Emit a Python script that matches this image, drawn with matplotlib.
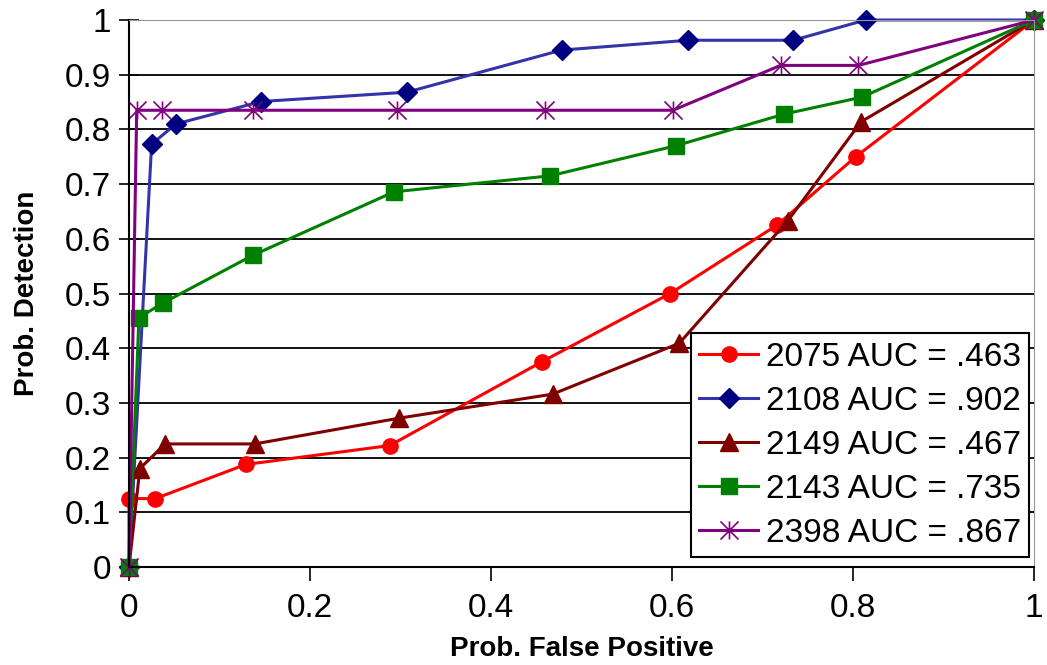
import numpy as np
import matplotlib.pyplot as plt
from matplotlib.path import Path

# ROC points (prob. false positive, prob. detection)
labels = ["2075 AUC = .463", "2108 AUC = .902", "2149 AUC = .467",
          "2143 AUC = .735", "2398 AUC = .867"]

fp_2075 = [0, 0, 0.029, 0.129, 0.288, 0.456, 0.598, 0.716, 0.803, 1]
pd_2075 = [0, 0.125, 0.125, 0.1875, 0.222, 0.375, 0.5, 0.625, 0.75, 1]

fp_2108 = [0, 0.025, 0.052, 0.146, 0.307, 0.478, 0.618, 0.734, 0.814, 1]
pd_2108 = [0, 0.773, 0.81, 0.851, 0.868, 0.945, 0.963, 0.963, 1.0, 1]

fp_2149 = [0, 0.012, 0.04, 0.139, 0.298, 0.468, 0.608, 0.728, 0.809, 1]
pd_2149 = [0, 0.18, 0.225, 0.225, 0.272, 0.316, 0.409, 0.633, 0.814, 1]

fp_2143 = [0, 0.011, 0.038, 0.137, 0.293, 0.465, 0.604, 0.724, 0.81, 1]
pd_2143 = [0, 0.456, 0.483, 0.57, 0.686, 0.715, 0.77, 0.828, 0.859, 1]

fp_2398 = [0, 0.0085, 0.037, 0.137, 0.296, 0.46, 0.601, 0.72, 0.806, 1]
pd_2398 = [0, 0.835, 0.835, 0.835, 0.835, 0.835, 0.835, 0.917, 0.917, 1]

# excel style star: vertical bar plus an X
star = Path([(0, -1), (0, 1), (-1, -1), (1, 1), (-1, 1), (1, -1)],
            [Path.MOVETO, Path.LINETO, Path.MOVETO, Path.LINETO,
             Path.MOVETO, Path.LINETO])

plt.rcParams['font.family'] = ['Liberation Sans', 'DejaVu Sans']

fig = plt.figure(figsize=(10.47, 6.65), dpi=100)
ax = fig.add_axes([129 / 1047, 98 / 665, 905 / 1047, 547 / 665])

lw = 2.2
ax.plot(fp_2075, pd_2075, color="#ff0000", lw=lw, marker="o", ms=11,
        mfc="#ff0000", mec="#ff0000", label=labels[0], clip_on=False)
ax.plot(fp_2108, pd_2108, color="#3333aa", lw=lw, marker="D", ms=10,
        mfc="#000080", mec="#000080", label=labels[1], clip_on=False)
ax.plot(fp_2149, pd_2149, color="#800000", lw=lw, marker="^", ms=13,
        mfc="#800000", mec="#800000", label=labels[2], clip_on=False)
ax.plot(fp_2143, pd_2143, color="#008000", lw=lw, marker="s", ms=12,
        mfc="#008000", mec="#008000", label=labels[3], clip_on=False)
ax.plot(fp_2398, pd_2398, color="#800080", lw=lw, marker=star, ms=13,
        mec="#800080", mew=1.2, label=labels[4], clip_on=False)

ax.set_xlim(0, 1)
ax.set_ylim(0, 1)
ax.set_yticks(np.arange(0, 1.01, 0.1))
ax.set_yticklabels(["0"] + ["%.1f" % v for v in np.arange(0.1, 0.95, 0.1)] + ["1"])
ax.set_xticks([0, 0.2, 0.4, 0.6, 0.8, 1])
ax.set_xticklabels(["0", "0.2", "0.4", "0.6", "0.8", "1"])

for v in np.arange(0.1, 0.95, 0.1):
    ax.axhline(v, color="black", lw=1.3, zorder=0)

ax.spines["left"].set_color("black")
ax.spines["bottom"].set_color("black")
ax.spines["left"].set_linewidth(1.5)
ax.spines["bottom"].set_linewidth(1.5)
ax.spines["top"].set_color("#999999")
ax.spines["right"].set_color("#999999")

ax.tick_params(axis="y", direction="inout", length=14, width=1.2,
               labelsize=24, pad=6)
ax.tick_params(axis="x", direction="out", length=10, width=1.2,
               labelsize=24, pad=9)

ax.set_xlabel("Prob. False Positive", fontsize=20, fontweight="bold",
              labelpad=8)
ax.set_ylabel("Prob. Detection", fontsize=20, fontweight="bold",
              labelpad=18)

leg = ax.legend(loc="lower right", bbox_to_anchor=(0.995, 0.018),
                fontsize=24, frameon=True, fancybox=False, framealpha=1,
                edgecolor="black", handlelength=1.75, handletextpad=0.25,
                labelspacing=0.39, borderpad=0.25, borderaxespad=0)
leg.get_frame().set_linewidth(1.5)

fig.savefig("out.png", dpi=100)
